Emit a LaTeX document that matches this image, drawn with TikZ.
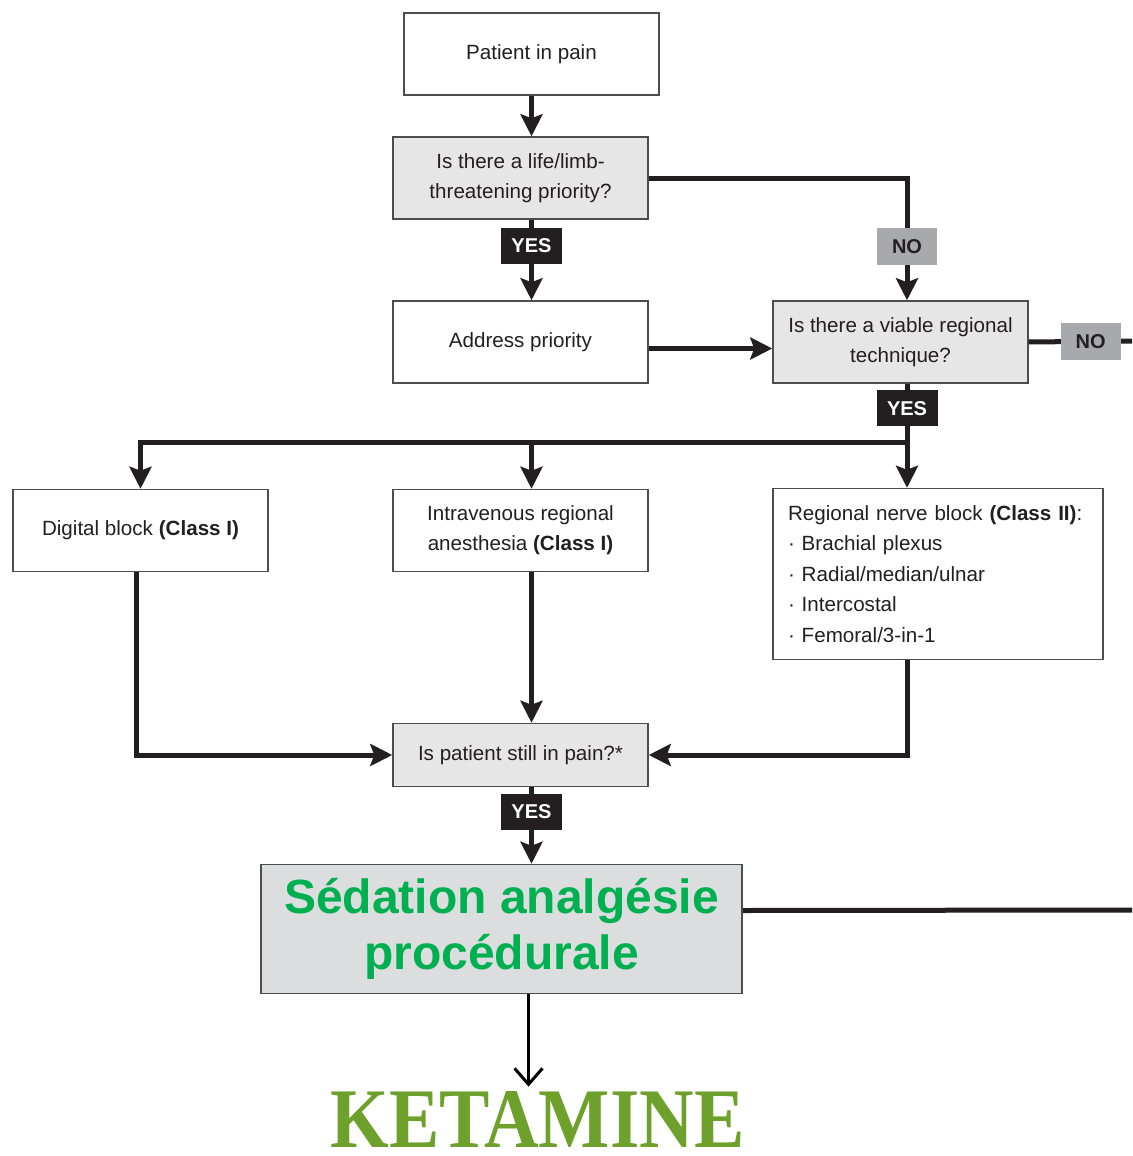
\documentclass[tikz,border=0pt]{standalone}
\usepackage{fontspec}
\setmainfont{Liberation Sans}
\newfontfamily\ketfont{Liberation Serif}
\usepackage{xcolor}
\usepackage{graphicx}
\usepackage{tikz}
\usetikzlibrary{arrows.meta,positioning,calc}
\definecolor{fcink}{HTML}{231F20}
\definecolor{fcframe}{HTML}{4D4D4D}
\definecolor{fcgray}{HTML}{E6E6E6}
\definecolor{fcsedgray}{HTML}{DCDDDF}
\definecolor{fcnogray}{HTML}{A7A9AC}
\definecolor{fcgreen}{HTML}{00B050}
\definecolor{fcketgreen}{HTML}{6EA12B}
\newcommand\fcfont{\fontsize{10.3}{15}\selectfont}
\newcommand\fcbold{\fontsize{10}{12}\selectfont\bfseries}
\tikzset{
  fcbox/.style={
    rectangle, draw=fcframe, fill=white, line width=0.75pt,
    minimum width=127.5pt, minimum height=41pt, inner sep=2pt,
    align=center, font=\fcfont, text=fcink
  },
  fcquery/.style={fcbox,fill=fcgray},
  fcyes/.style={fill=fcink,text=white,font=\fcbold,minimum width=30.5pt,minimum height=18pt,inner sep=1pt},
  fcno/.style={fill=fcnogray,text=fcink,font=\fcbold,minimum width=30pt,minimum height=18.5pt,inner sep=1pt},
  fcedge/.style={-{Stealth[length=11pt,width=11pt,inset=2pt]},line width=2.5pt,draw=fcink},
  fcline/.style={line width=2.5pt,draw=fcink},
  fcthin/.style={-{Straight Barb[length=8pt,width=14pt]},line width=1.5pt,draw=black},
  fcsed/.style={fcbox,fill=fcsedgray,minimum width=240.5pt,minimum height=64.5pt,
    font=\fontsize{24}{28}\selectfont\bfseries,text=fcgreen},
  fcket/.style={inner sep=0pt,text=fcketgreen}
}

\begin{document}
\begin{tikzpicture}[x=0.5pt,y=-0.5pt]
  \useasboundingbox (0,0) rectangle (1132,1156);

  % Boxes
  \node[fcbox] (pain) at (531.5,54) {Patient in pain};
  \node[fcquery] (threat) at (520.5,178) {Is there a life/limb-\\threatening priority?};
  \node[fcbox] (address) at (520.5,342) {Address priority};
  \node[fcquery] (regional) at (900.5,342) {Is there a viable regional\\technique?};

  \node[fcbox] (digital) at (140.5,530.5) {Digital block \textbf{(Class I)}};
  \node[fcbox] (ivra) at (520.5,530.5) {Intravenous regional\\anesthesia \textbf{(Class I)}};
  \node[fcbox,minimum width=165pt,minimum height=85.5pt,text width=150pt,
    inner xsep=7.5pt,align=left,font=\fontsize{10.3}{15.25}\selectfont] (nerve) at (938,574)
    {Regional nerve block \textbf{(Class II)}:\\
     · Brachial plexus\\
     · Radial/median/ulnar\\
     · Intercostal\\
     · Femoral/3-in-1};

  \node[fcquery,minimum height=31.5pt] (still) at (520.5,755) {Is patient still in pain?*};
  \node[fcsed] (sedation) at (501.5,929) {Sédation analgésie\\procédurale};
  \node[fcket] (ketamine) at (537.5,1119)
    {\resizebox{207pt}{28pt}{\ketfont\bfseries KETAMINE}};

  \coordinate (split) at (907,442);
  \coordinate (edgeno) at (1132,341);
  \coordinate (edgesed) at (1132,910);

  % Connectors
  \draw[fcedge] (pain.south) -- (pain.south |- threat.north);
  \draw[fcedge] (threat.south -| pain.south) -- node[fcyes,pos=0.32] {YES} (address.north -| pain.south);
  \draw[fcedge] (threat.east) -| node[fcno,pos=0.78] {NO} ([xshift=3.25pt]regional.north);
  \draw[fcedge] ([yshift=-3.25pt]address.east) -- ([yshift=-3.25pt]regional.west);
  \draw[fcline] (regional.east) -- node[fcno,pos=0.6] {NO} (edgeno);

  \draw[fcline] ([xshift=3.25pt]regional.south) -- node[fcyes,pos=0.42] {YES} (split);
  \draw[fcedge] (split) -- (split |- nerve.north);
  \draw[fcedge] (split) -| (digital.north);
  \draw[fcedge] (split -| pain.south) -- (ivra.north -| pain.south);

  \draw[fcedge] ([xshift=-2pt]digital.south) |- (still.west);
  \draw[fcedge] (ivra.south -| pain.south) -- (still.north -| pain.south);
  \draw[fcedge] (nerve.south -| split) |- (still.east);

  \draw[fcedge] (still.south -| pain.south) -- node[fcyes,pos=0.32] {YES} (sedation.north -| pain.south);
  \draw[fcline] ([yshift=9.25pt]sedation.east) -- (edgesed);
  \draw[fcthin,shorten >=2pt] ([xshift=-1.5pt]sedation.south -| pain.south) -- ([xshift=-1.5pt]ketamine.north -| pain.south);
\end{tikzpicture}
\end{document}
